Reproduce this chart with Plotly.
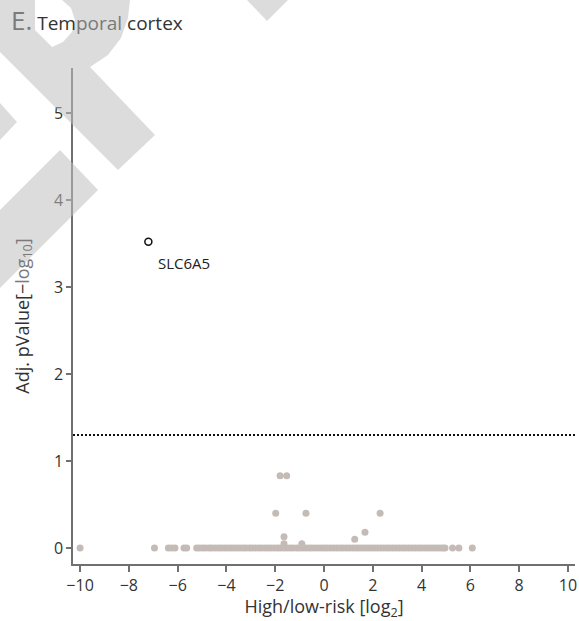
import plotly.graph_objects as go

# ---------------- data ----------------
# genes at adj. p-value ~1 (-log10 = 0)
band_x = [-10.0, -6.95, -6.38, -6.25, -6.11, -5.74, -5.63,
          -5.22, -5.10, -4.97, -4.85, -4.71, -4.60, -4.46, -4.33, -4.21, -4.08,
          -3.95, -3.82, -3.70, -3.57, -3.44, -3.31, -3.19, -3.05, -2.93, -2.80,
          -2.67, -2.55, -2.41, -2.29, -2.16, -2.03, -1.90, -1.78, -1.64, -1.52,
          -1.39, -1.27, -1.13, -1.01, -0.88, -0.75, -0.62, -0.50, -0.37, -0.24,
          -0.11, 0.02, 0.14, 0.27, 0.40, 0.53, 0.66, 0.78, 0.91, 1.04, 1.17,
          1.30, 1.42, 1.55, 1.68, 1.81, 1.94, 2.06, 2.19, 2.32, 2.45, 2.58,
          2.70, 2.83, 2.96, 3.09, 3.22, 3.34, 3.47, 3.60, 3.73, 3.86, 3.98,
          4.11, 4.24, 4.37, 4.50, 4.62, 4.75, 4.87, 4.96, 5.27, 5.53, 6.08]
band_level = 0.0

# genes slightly above zero
raised_x = [-1.80, -1.53, -1.98, -0.74, 2.30, 1.68, 1.26, -1.64, -1.64, -0.91]
raised_y = [0.83, 0.83, 0.40, 0.40, 0.40, 0.18, 0.10, 0.13, 0.05, 0.05]

# significant gene
sig_gene = ["SLC6A5"]
sig_x = [-7.20]
sig_y = [3.52]

threshold = 1.30  # -log10(0.05)

x_ticks = [-10, -8, -6, -4, -2, 0, 2, 4, 6, 8, 10]
y_ticks = [0, 1, 2, 3, 4, 5]

# ---------------- figure ----------------
W, H = 579, 621
ML, MR, MT, MB = 73, 4, 68, 57
PW, PH = W - ML - MR, H - MT - MB

GRAY_TXT = "#7a7a7a"
TXT = "#333333"

fig = go.Figure()
fig.add_trace(go.Scatter(
    x=band_x, y=[band_level for _ in band_x], mode="markers",
    marker=dict(size=7, color="#c5bbb6", line=dict(width=0)),
    hoverinfo="skip", showlegend=False))
fig.add_trace(go.Scatter(
    x=raised_x, y=raised_y, mode="markers",
    marker=dict(size=7, color="#c5bbb6", line=dict(width=0)),
    hoverinfo="skip", showlegend=False))
fig.add_trace(go.Scatter(
    x=sig_x, y=sig_y, mode="markers",
    marker=dict(size=7, symbol="circle-open", color="#111111", line=dict(width=1.5)),
    showlegend=False))

fig.add_annotation(x=sig_x[0] + 0.33, y=sig_y[0] - 0.24, xref="x", yref="y",
                   text=sig_gene[0], showarrow=False, xanchor="left", yanchor="middle",
                   font=dict(size=15, color="#222222"))

fig.add_shape(type="line", xref="paper", yref="y", x0=0, x1=1, y0=threshold, y1=threshold,
              line=dict(color="#111111", width=2, dash="2px,2px"))


# ---- watermark overlay (pixel coords -> paper coords) ----
def pp(pts):
    s = ""
    for i, (px, py) in enumerate(pts):
        x = (px - ML) / PW
        y = (H - MB - py) / PH
        s += ("M" if i == 0 else "L") + f"{x:.4f},{y:.4f} "
    return s + "Z "


wm_fill = "rgba(190,190,190,0.54)"
r_outer = [(0, 0), (130, 0), (128, 18), (121, 38), (108, 55), (90, 67),
           (155, 135), (118, 170), (0, 52)]
r_hole = [(35, 0), (62, 0), (71, 8), (75, 20), (72, 32), (63, 42), (52, 47), (35, 30)]
wm_paths = [pp(r_outer) + pp(r_hole),
            pp([(0, 103), (17, 122), (0, 140)]),
            pp([(60, 150), (98, 190), (0, 288), (0, 210)]),
            pp([(247, 0), (288, 0), (267, 21)])]
for i, p in enumerate(wm_paths):
    fig.add_shape(type="path", path=p, xref="paper", yref="paper", layer="above",
                  fillcolor=wm_fill, line=dict(width=0), fillrule="evenodd")

fig.update_layout(
    width=W, height=H,
    margin=dict(l=ML, r=MR, t=MT, b=MB, autoexpand=False),
    paper_bgcolor="white", plot_bgcolor="white",
    font=dict(family="Open Sans, sans-serif", color=TXT, size=18),
    showlegend=False,
    title=dict(
        text=(f"<span style='font-size:26px;color:{GRAY_TXT}'>E.</span> Tem"
              f"<span style='color:{GRAY_TXT}'>poral</span> cortex"),
        xref="container", yref="container", x=11 / W, xanchor="left",
        y=1 - 23 / H, yanchor="middle",
        font=dict(size=19, color=TXT)),
)
fig.update_xaxes(
    range=[-10.29, 10.29], tickvals=x_ticks, ticks="outside", ticklen=6, tickwidth=1.5,
    tickcolor="#707070", showline=True, linecolor="#707070", linewidth=1.5,
    showgrid=False, zeroline=False, tickfont=dict(size=16, color=TXT),
    title=dict(text="High/low-risk [log<sub>2</sub>]", standoff=9,
               font=dict(size=18, color=TXT)))
fig.update_yaxes(
    range=[-0.184, 5.517], tickvals=y_ticks, ticks="outside", ticklen=5, tickwidth=1.5,
    tickcolor="#707070", showline=True, linecolor="#707070", linewidth=1.5,
    showgrid=False, zeroline=False, tickfont=dict(size=16, color=TXT),
    title=dict(text=f"Adj. pValue[−<span style='color:{GRAY_TXT}'>log<sub>10</sub>]</span>",
               standoff=20, font=dict(size=18, color=TXT)))

fig.write_html("out.html", config={"displayModeBar": False},
               post_script="document.body.style.margin='0';document.body.style.overflow='hidden';")
